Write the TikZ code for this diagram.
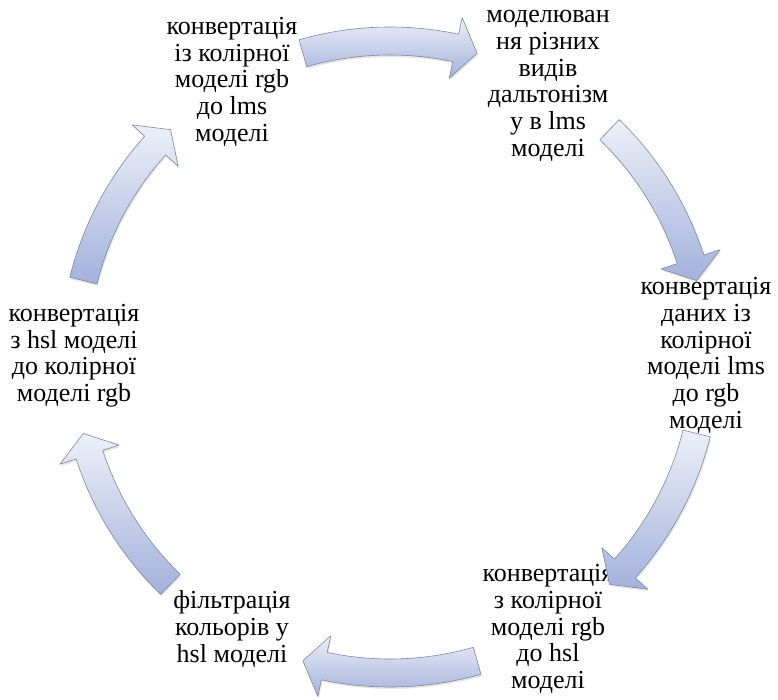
\documentclass[tikz,border=0pt]{standalone}
\usepackage{fontspec}
\setmainfont{Liberation Serif}
\usetikzlibrary{shadows}

\definecolor{arrowtop}{RGB}{237,240,248}
\definecolor{arrowbottom}{RGB}{163,178,220}
\definecolor{arrowline}{RGB}{125,135,158}

\begin{document}
\begin{tikzpicture}[x=1pt,y=1pt,
    step text/.style={align=center,font=\fontsize{26}{26.7}\selectfont,
      execute at begin node=\strut,execute at end node=\strut},
    block arrow/.style={draw=arrowline,line width=0.6pt,line join=round,
      top color=arrowtop,bottom color=arrowbottom,
      drop shadow={shadow xshift=1pt,shadow yshift=-2pt,opacity=0.2}}]

  \useasboundingbox (-390,-342) rectangle (388,357);

  % Steps
  \def\r{316}
  \node[step text] (rgbtolms) at (120:\r) {конвертація\\із колірної\\моделі rgb\\до lms\\моделі};
  \node[step text,yshift=-4] (modelling) at (60:\r) {моделюван\\ня різних\\видів\\дальтонізм\\у в lms\\моделі};
  \node[step text] (lmstorgb) at (0:\r) {конвертація\\даних із\\колірної\\моделі lms\\до rgb\\моделі};
  \node[step text] (rgbtohsl) at (-60:\r) {конвертація\\з колірної\\моделі rgb\\до hsl\\моделі};
  \node[step text] (filtering) at (-120:\r) {фільтрація\\кольорів у\\hsl моделі};
  \node[step text] (hsltorgb) at (180:\r) {конвертація\\з hsl моделі\\до колірної\\моделі rgb};

  % Arrows
  \foreach \c in {90,30,-30,-90,-150,150} {
    \draw[block arrow] (\c+16:\r-14) arc[start angle=\c+16, end angle=\c-12, radius=\r-14]
      -- (\c-12:\r-31) -- (\c-16:\r) -- (\c-12:\r+31) -- (\c-12:\r+14)
      arc[start angle=\c-12, end angle=\c+16, radius=\r+14] -- cycle;
  }

\end{tikzpicture}
\end{document}
